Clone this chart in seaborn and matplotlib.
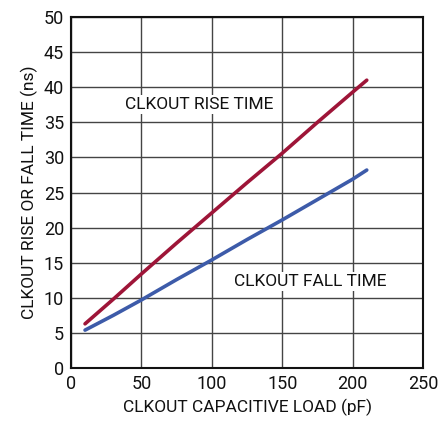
import matplotlib
matplotlib.use('Agg')
import matplotlib.pyplot as plt
import seaborn as sns
import pandas as pd

# values
load_pf = [10, 30, 50, 75, 100, 125, 150, 175, 200, 210]
rise_ns = [6.3, 9.8, 13.4, 17.8, 22.1, 26.4, 30.6, 35.0, 39.3, 41.0]
fall_ns = [5.4, 7.5, 9.7, 12.6, 15.4, 18.3, 21.1, 24.0, 26.9, 28.2]

x_ticks = [0, 50, 100, 150, 200, 250]
y_ticks = [0, 5, 10, 15, 20, 25, 30, 35, 40, 45, 50]

RED = '#9E1538'
BLUE = '#3D5BA9'

sns.set_style('white')
plt.rcParams['font.family'] = ['Roboto', 'DejaVu Sans']
plt.rcParams['text.color'] = '#111111'
plt.rcParams['axes.labelcolor'] = '#111111'
plt.rcParams['xtick.color'] = '#111111'
plt.rcParams['ytick.color'] = '#111111'

df = pd.DataFrame({'load': load_pf, 'rise': rise_ns, 'fall': fall_ns})

fig = plt.figure(figsize=(4.38, 4.25), dpi=100)
ax = fig.add_axes([0.162, 0.134, 0.804, 0.826])

sns.lineplot(data=df, x='load', y='rise', color=RED, linewidth=2.6, ax=ax)
sns.lineplot(data=df, x='load', y='fall', color=BLUE, linewidth=2.6, ax=ax)

ax.set_xlim(0, 250)
ax.set_ylim(0, 50)
ax.set_xticks(x_ticks)
ax.set_yticks(y_ticks)
ax.grid(True, color='#444444', linewidth=1.0)
ax.set_axisbelow(True)
for s in ax.spines.values():
    s.set_color('#111111')
    s.set_linewidth(1.5)
ax.tick_params(axis='both', labelsize=13, length=3, width=1,
               direction='out', pad=2)

ax.set_xlabel('CLKOUT CAPACITIVE LOAD (pF)', fontsize=12.5, labelpad=4)
ax.set_ylabel('CLKOUT RISE OR FALL TIME (ns)', fontsize=12.5, labelpad=4)

ax.text(91, 37.5, 'CLKOUT RISE TIME', fontsize=12.5, ha='center', va='center',
        bbox=dict(facecolor='white', edgecolor='none', pad=1.5))
ax.text(170, 12.3, 'CLKOUT FALL TIME', fontsize=12.5, ha='center', va='center',
        bbox=dict(facecolor='white', edgecolor='none', pad=1.5))

fig.savefig('out.png', dpi=100)
